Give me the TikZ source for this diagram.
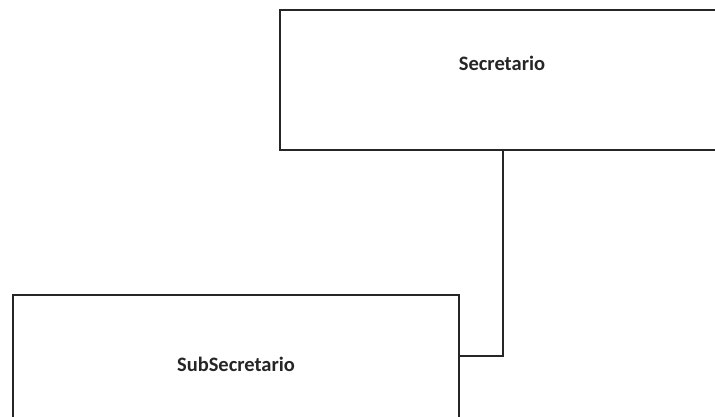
\documentclass[tikz,border=0pt]{standalone}
\usepackage{fontspec}
\setmainfont{Carlito}
\begin{document}
\begin{tikzpicture}[x=1pt,y=-1pt,
  box/.style={draw=black!85,line width=2pt,fill=none},
  lbl/.style={font=\fontsize{20.5}{23}\selectfont\bfseries,text=black!85,inner sep=0pt},
  conn/.style={draw=black!85,line width=2pt}]
\useasboundingbox (0,0) rectangle (715,417);
\draw[box] (279.5,10) rectangle (730,150);
\coordinate (topb) at (502.7,150);
\node[lbl] (sec) at (502,63) {Secretario};
\draw[box] (13,295) rectangle (459,430);
\coordinate (botr) at (459,356);
\node[lbl] (sub) at (236,364) {SubSecretario};
\draw[conn] (topb) |- (botr);
\end{tikzpicture}
\end{document}
